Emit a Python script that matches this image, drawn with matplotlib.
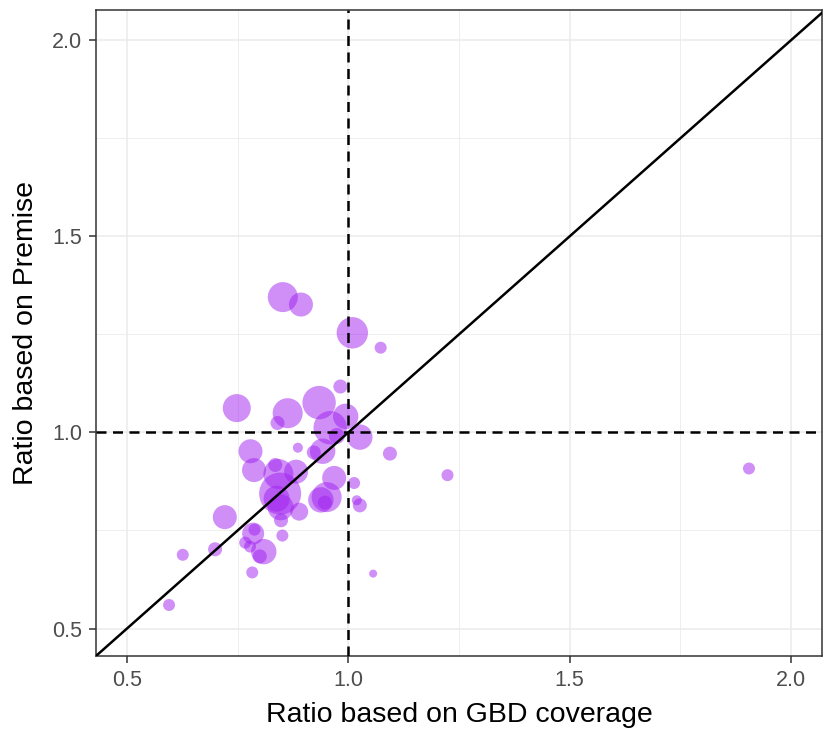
import numpy as np
import matplotlib.pyplot as plt

plt.rcParams['font.family'] = ['Liberation Sans', 'DejaVu Sans']

# ratio based on GBD coverage (x), ratio based on Premise (y), point weight (relative size)
gbd_ratio = [0.852, 0.893, 1.009, 1.073, 0.982, 0.748, 0.863, 0.840, 0.934, 0.994,
             0.959, 0.974, 1.026, 0.886, 0.942, 0.922, 1.094, 1.224, 0.779, 0.787,
             0.835, 0.882, 0.842, 0.846, 0.838, 0.847, 0.968, 0.951, 0.938, 0.947,
             1.013, 1.019, 1.026, 0.889, 0.848, 0.721, 0.851, 0.788, 0.785, 0.767,
             0.699, 0.778, 0.809, 0.800, 0.626, 0.783, 1.056, 0.595, 1.905]
premise_ratio = [1.345, 1.326, 1.254, 1.216, 1.117, 1.062, 1.049, 1.024, 1.076, 1.041,
                 1.012, 0.991, 0.988, 0.961, 0.952, 0.949, 0.946, 0.891, 0.952, 0.904,
                 0.917, 0.900, 0.894, 0.844, 0.831, 0.809, 0.884, 0.835, 0.828, 0.821,
                 0.871, 0.827, 0.814, 0.798, 0.776, 0.784, 0.737, 0.752, 0.742, 0.719,
                 0.702, 0.709, 0.696, 0.684, 0.688, 0.643, 0.640, 0.560, 0.908]
weight = [15, 12, 15.7, 6, 7, 14, 15, 7, 16.7, 12.7,
          16.7, 8, 12.7, 5, 12.7, 7, 7, 6, 12, 12,
          7, 12, 15, 21, 13, 13, 12, 15, 12.7, 7,
          6, 5, 7, 9, 7, 12, 6, 6, 11, 6,
          7, 6, 12.7, 7, 6, 6, 4, 6, 6]

fig = plt.figure(figsize=(8.24, 7.30), dpi=100)
ax = fig.add_axes([0.1165, 0.1014, 0.8811, 0.8849])

sizes = (np.array(weight) * 2 * 0.72) ** 2
ax.scatter(gbd_ratio, premise_ratio, s=sizes, color='#A020F0', alpha=0.5,
           linewidths=0, zorder=3)

ax.axline((0, 0), slope=1, color='black', lw=1.8, zorder=4)
ax.axhline(1.0, color='black', lw=1.8, ls=(0, (4, 2.6)), zorder=4)
ax.axvline(1.0, color='black', lw=1.8, ls=(0, (4, 2.6)), zorder=4)

ax.set_xlim(0.43, 2.07)
ax.set_ylim(0.43, 2.077)
ticks = [0.5, 1.0, 1.5, 2.0]
ax.set_xticks(ticks)
ax.set_yticks(ticks)
ax.set_xticks([0.75, 1.25, 1.75], minor=True)
ax.set_yticks([0.75, 1.25, 1.75], minor=True)
ax.grid(which='major', color='#EBEBEB', lw=1.1, zorder=0)
ax.grid(which='minor', color='#EBEBEB', lw=0.6, zorder=0)
ax.set_axisbelow(True)
ax.tick_params(which='minor', length=0)
ax.tick_params(which='major', length=5, color='#333333', labelsize=15.5,
               labelcolor='#4D4D4D', width=1.1, pad=5)
for sp in ax.spines.values():
    sp.set_color('#333333')
    sp.set_linewidth(1.1)

ax.set_xlabel('Ratio based on GBD coverage', fontsize=20.5, labelpad=8)
ax.set_ylabel('Ratio based on Premise', fontsize=20.5, labelpad=9)

plt.savefig('out.png', dpi=100)
